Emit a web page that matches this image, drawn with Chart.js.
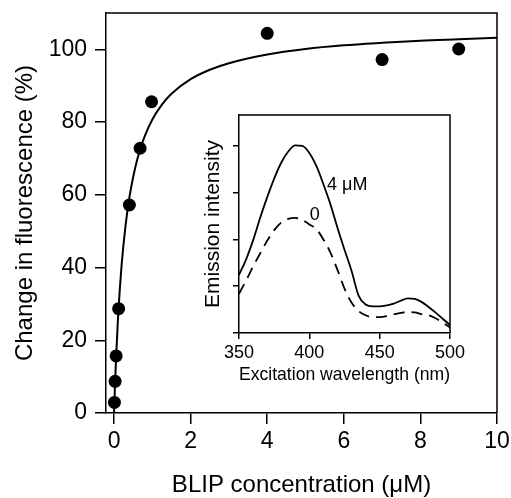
<!DOCTYPE html>
<html><head><meta charset="utf-8">
<script src="https://cdn.jsdelivr.net/npm/chart.js@4.4.0/dist/chart.umd.min.js"></script>
<style>
html,body{margin:0;padding:0;background:#fff;}
#wrap{position:relative;width:511px;height:498px;overflow:hidden;}
#main{position:absolute;left:0;top:0;}
#inset{position:absolute;left:190px;top:105px;}
</style></head><body>
<div id="wrap">
<canvas id="main" width="511" height="498"></canvas>
<canvas id="inset" width="275" height="285"></canvas>
</div>
<script>
// ---- main panel data ----
const blipConc    = [0.01, 0.028, 0.055, 0.12, 0.4, 0.68, 0.98, 4, 7, 9];
const fluorChange = [2.9, 8.7, 15.7, 28.7, 57.2, 72.8, 85.6, 104.4, 97.2, 100.1];
const fitConc   = [0, 0.025, 0.05, 0.1, 0.15, 0.2, 0.3, 0.4, 0.5, 0.6, 0.7, 0.8, 1, 1.25, 1.5, 2, 2.5, 3, 4, 5, 6, 7, 8, 9, 10];
const fitChange = [0, 7.7, 14.4, 25.4, 34.0, 41.0, 51.5, 59.2, 64.9, 69.5, 73.1, 76.1, 80.7, 84.8, 87.8, 91.8, 94.4, 96.2, 98.6, 100.1, 101.1, 101.8, 102.4, 102.8, 103.2];
const xTicks = [0, 2, 4, 6, 8, 10];
const yTicks = [0, 20, 40, 60, 80, 100];

// ---- inset data ----
const wavelength = [350,355,360,365,370,375,380,385,390,395,400,405,410,415,420,425,430,435,440,445,450,455,460,465,470,475,480,485,490,495,500];
const emission4uM = [1.24,1.57,1.98,2.46,2.90,3.30,3.64,3.88,4.01,4.00,3.85,3.57,3.18,2.75,2.25,1.78,1.33,0.80,0.61,0.57,0.57,0.59,0.63,0.69,0.74,0.73,0.66,0.55,0.43,0.30,0.17];
const emission0   = [0.84,1.12,1.42,1.70,1.97,2.20,2.36,2.44,2.46,2.42,2.32,2.22,2.00,1.72,1.35,0.95,0.65,0.47,0.38,0.34,0.34,0.36,0.40,0.43,0.45,0.44,0.40,0.38,0.31,0.22,0.12];
const insetXTicks = [350, 400, 450, 500];
const insetYTicks = [0, 1, 2, 3, 4];
const curveLabels = ['4 \u03bcM', '0'];

const FONT = "'Liberation Sans', Arial, Helvetica, sans-serif";
const INK = '#000';

const framePlugin = {
  id: 'frame',
  afterDatasetsDraw(chart) {
    const {ctx, chartArea: a} = chart;
    ctx.save();
    ctx.strokeStyle = INK;
    ctx.lineWidth = 1.5;
    ctx.beginPath();
    ctx.moveTo(a.left, a.top);
    ctx.lineTo(a.right, a.top);
    ctx.lineTo(a.right, a.bottom);
    ctx.stroke();
    ctx.restore();
  }
};

const fixedTicks = arr => (s) => { s.ticks = arr.map(v => ({value: v})); };
const fitX = h => (s) => { s.height = h; s.paddingLeft = 0; s.paddingRight = 0; };
const fitY = w => (s) => { s.width = w; s.paddingTop = 0; s.paddingBottom = 0; };

new Chart(document.getElementById('main'), {
  type: 'scatter',
  data: {
    datasets: [
      {
        data: fitConc.map((x, i) => ({x, y: fitChange[i]})),
        showLine: true,
        borderColor: INK,
        borderWidth: 2,
        pointRadius: 0,
        cubicInterpolationMode: 'monotone',
        fill: false
      },
      {
        data: blipConc.map((x, i) => ({x, y: fluorChange[i]})),
        showLine: false,
        pointRadius: 6.5,
        pointBackgroundColor: INK,
        pointBorderWidth: 0
      }
    ]
  },
  options: {
    responsive: false,
    animation: false,
    devicePixelRatio: 1,
    layout: {padding: {top: 13, right: 14, left: 0, bottom: 0}},
    plugins: {legend: {display: false}, tooltip: {enabled: false}},
    scales: {
      x: {
        type: 'linear', min: -0.21, max: 10,
        afterBuildTicks: fixedTicks(xTicks),
        afterFit: fitX(85),
        grid: {display: true, drawOnChartArea: false, drawTicks: true, tickLength: 11, color: INK, lineWidth: 1.5},
        border: {display: true, color: INK, width: 1.5},
        ticks: {color: INK, font: {family: FONT, size: 23}, padding: 4, maxRotation: 0},
        title: {display: true, text: 'BLIP concentration (\u03bcM)', color: INK, font: {family: FONT, size: 24}, padding: {top: 0, bottom: -2}}
      },
      y: {
        type: 'linear', min: 0, max: 110,
        afterBuildTicks: fixedTicks(yTicks),
        afterFit: fitY(106),
        grid: {display: true, drawOnChartArea: false, drawTicks: true, tickLength: 11, color: INK, lineWidth: 1.5},
        border: {display: true, color: INK, width: 1.5},
        ticks: {color: INK, font: {family: FONT, size: 23}, padding: 8},
        title: {display: true, text: 'Change in fluorescence (%)', color: INK, font: {family: FONT, size: 24}, padding: {top: 11, bottom: 0}}
      }
    }
  },
  plugins: [framePlugin]
});

const labelPlugin = {
  id: 'curveLabels',
  afterDatasetsDraw(chart) {
    const {ctx, scales: {x, y}} = chart;
    ctx.save();
    ctx.fillStyle = INK;
    ctx.font = '18px ' + FONT;
    ctx.textAlign = 'left';
    ctx.textBaseline = 'alphabetic';
    ctx.fillText(curveLabels[0], x.getPixelForValue(412.6), y.getPixelForValue(3.06));
    ctx.fillText(curveLabels[1], x.getPixelForValue(400.3), y.getPixelForValue(2.41));
    ctx.restore();
  }
};

new Chart(document.getElementById('inset'), {
  type: 'scatter',
  data: {
    datasets: [
      {
        data: wavelength.map((x, i) => ({x, y: emission4uM[i]})),
        showLine: true, borderColor: INK, borderWidth: 1.8, pointRadius: 0,
        cubicInterpolationMode: 'monotone', fill: false
      },
      {
        data: wavelength.map((x, i) => ({x, y: emission0[i]})),
        showLine: true, borderColor: INK, borderWidth: 1.8, pointRadius: 0,
        borderDash: [11, 7], cubicInterpolationMode: 'monotone', fill: false
      }
    ]
  },
  options: {
    responsive: false,
    animation: false,
    devicePixelRatio: 1,
    layout: {padding: {top: 10, right: 15, left: 0, bottom: 0}},
    plugins: {legend: {display: false}, tooltip: {enabled: false}},
    scales: {
      x: {
        type: 'linear', min: 350, max: 500,
        afterBuildTicks: fixedTicks(insetXTicks),
        afterFit: fitX(57),
        grid: {display: true, drawOnChartArea: false, drawTicks: true, tickLength: 6, color: INK, lineWidth: 1.5},
        border: {display: true, color: INK, width: 1.5},
        ticks: {color: INK, font: {family: FONT, size: 18}, padding: 3, maxRotation: 0},
        title: {display: true, text: 'Excitation wavelength (nm)', color: INK, font: {family: FONT, size: 18.5}, padding: {top: 0, bottom: 4}}
      },
      y: {
        type: 'linear', min: 0, max: 4.66,
        afterBuildTicks: fixedTicks(insetYTicks),
        afterFit: fitY(49),
        grid: {display: true, drawOnChartArea: false, drawTicks: true, tickLength: 6, color: INK, lineWidth: 1.5},
        border: {display: true, color: INK, width: 1.5},
        ticks: {display: false},
        title: {display: true, text: 'Emission intensity', color: INK, font: {family: FONT, size: 21}, padding: {top: 11, bottom: 0}}
      }
    }
  },
  plugins: [framePlugin, labelPlugin]
});
</script>
</body></html>
